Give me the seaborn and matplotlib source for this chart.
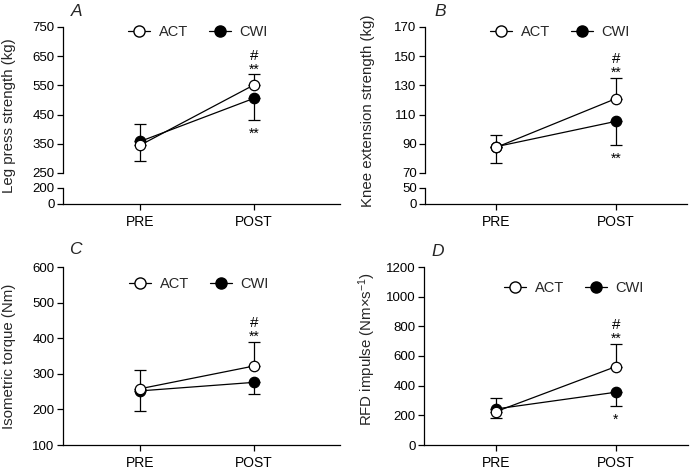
import matplotlib
matplotlib.use("Agg")
import matplotlib.pyplot as plt
import pandas as pd
import seaborn as sns
from matplotlib.lines import Line2D

# ---- data ----
times = ["PRE", "POST"]
groups = ["ACT", "CWI"]

# A: leg press strength (kg)
leg_act = [345, 552]
leg_act_sd = [74, 36]
leg_cwi = [358, 506]
leg_cwi_sd = [67, 73]
leg_marks = [("#", 657), ("**", 617), ("**", 400)]

# B: knee extension strength (kg)
knee_act = [87.5, 121]
knee_act_sd = [8.7, 14.3]
knee_cwi = [88, 105.4]
knee_cwi_sd = [11.3, 16.1]
knee_marks = [("#", 149), ("**", 141.5), ("**", 82.4)]

# C: isometric torque (Nm)
iso_act = [258, 322]
iso_act_sd = [52, 68]
iso_cwi = [252, 276]
iso_cwi_sd = [56, 32]
iso_marks = [("#", 448), ("**", 416)]

# D: RFD impulse (Nm x s-1)
rfd_act = [225, 529]
rfd_act_sd = [90, 153]
rfd_cwi = [243, 356]
rfd_cwi_sd = [63, 90]
rfd_marks = [("#", 822), ("**", 743), ("*", 196)]

W, H = 694, 470
FS = 9.5
LABEL_FS = 10.8
LEG_FS = 10.5
LW = 0.9

sns.set_style("ticks")
plt.rcParams["font.family"] = ["Liberation Sans", "DejaVu Sans"]
plt.rcParams["mathtext.default"] = "regular"
plt.rcParams.update({
    "axes.linewidth": LW,
    "xtick.major.width": LW,
    "ytick.major.width": LW,
    "xtick.major.size": 4,
    "ytick.major.size": 4,
    "xtick.major.pad": 4,
    "ytick.major.pad": 2,
    "xtick.labelsize": 10,
    "ytick.labelsize": FS,
    "xtick.color": "black",
    "ytick.color": "black",
    "axes.edgecolor": "black",
})

fig = plt.figure(figsize=(W / 100, H / 100), dpi=100)


def px_axes(left, right, top, bottom):
    return fig.add_axes([left / W, 1 - bottom / H, (right - left) / W, (bottom - top) / H])


def draw_series(ax, act, act_sd, cwi, cwi_sd):
    x = [0, 1]
    ax.errorbar(x, cwi, yerr=[cwi_sd, [0, 0]], fmt="none", ecolor="black",
                elinewidth=LW, capsize=4, capthick=LW, zorder=1)
    ax.errorbar(x, act, yerr=[[0, 0], act_sd], fmt="none", ecolor="black",
                elinewidth=LW, capsize=4, capthick=LW, zorder=1)
    for vals, face, z in [(cwi, "black", 2), (act, "white", 3)]:
        df = pd.DataFrame({"time": x, "value": vals})
        sns.lineplot(data=df, x="time", y="value", ax=ax, color="black", lw=LW,
                     marker="o", markersize=7.5, markerfacecolor=face,
                     markeredgecolor="black", markeredgewidth=LW, zorder=z)


def finish(ax, xlim):
    ax.set_xlim(*xlim)
    ax.set_xticks([0, 1])
    ax.set_xticklabels(times)
    ax.set_xlabel("")
    ax.set_ylabel("")
    sns.despine(ax=ax)


def add_marks(ax, marks):
    # y is the visual centre of the symbol; shift the baseline down accordingly
    for txt, y in marks:
        fs = 11 if txt == "#" else 10
        off = 0.36 * fs if txt == "#" else 0.6 * fs
        ax.annotate(txt, (1, y), xytext=(0, -off), textcoords="offset points",
                    ha="center", va="baseline", fontsize=fs, color="black")


def add_legend(cx, cy):
    handles = [
        Line2D([], [], color="black", lw=LW, marker="o", ms=8, mfc="white", mec="black"),
        Line2D([], [], color="black", lw=LW, marker="o", ms=8, mfc="black", mec="black"),
    ]
    fig.legend(handles, groups, loc="center", bbox_to_anchor=(cx / W, 1 - cy / H),
               ncol=2, frameon=False, fontsize=LEG_FS, handlelength=1.5,
               handletextpad=0.6, columnspacing=1.4)


def ylabel(cx, cy, text):
    fig.text(cx / W, 1 - cy / H, text, rotation=90, ha="center", va="center", fontsize=LABEL_FS)


def letter(cx, cy, text):
    fig.text(cx / W, 1 - cy / H, text, ha="center", va="center", fontsize=12.5, style="italic")


def broken_panel(left, right, xlim, act, act_sd, cwi, cwi_sd, top_lim, top_ticks, low_ticks, marks):
    top = px_axes(left, right, 27, 173)
    low = px_axes(left, right, 188, 204)
    draw_series(top, act, act_sd, cwi, cwi_sd)
    top.set_ylim(*top_lim)
    top.set_yticks(top_ticks)
    finish(top, xlim)
    top.spines["bottom"].set_visible(False)
    top.tick_params(axis="x", bottom=False, labelbottom=False)
    low.set_ylim(low_ticks[0], low_ticks[-1])
    low.set_yticks(low_ticks)
    finish(low, xlim)
    top.patch.set_alpha(0)
    low.patch.set_alpha(0)
    add_marks(top, marks)


# A
broken_panel(63, 340, (-0.675, 1.752), leg_act, leg_act_sd, leg_cwi, leg_cwi_sd,
             (250, 750), range(250, 751, 100), [0, 200], leg_marks)
add_legend(198, 32)
ylabel(9, 116, "Leg press strength (kg)")
letter(77, 12, "A")

# B
broken_panel(425, 687, (-0.592, 1.591), knee_act, knee_act_sd, knee_cwi, knee_cwi_sd,
             (70, 170), range(70, 171, 20), [0, 50], knee_marks)
add_legend(560, 32)
ylabel(368, 111, "Knee extension strength (kg)")
letter(440, 12, "B")

# C
ax_c = px_axes(63, 340, 267, 445)
draw_series(ax_c, iso_act, iso_act_sd, iso_cwi, iso_cwi_sd)
ax_c.set_ylim(100, 600)
ax_c.set_yticks(range(100, 601, 100))
finish(ax_c, (-0.675, 1.752))
add_marks(ax_c, iso_marks)
add_legend(199, 284)
ylabel(9, 356, "Isometric torque (Nm)")
letter(75, 250, "C")

# D
ax_d = px_axes(424, 688, 267, 445)
draw_series(ax_d, rfd_act, rfd_act_sd, rfd_cwi, rfd_cwi_sd)
ax_d.set_ylim(0, 1200)
ax_d.set_yticks(range(0, 1201, 200))
finish(ax_d, (-0.6, 1.6))
add_marks(ax_d, rfd_marks)
add_legend(574, 288)
ylabel(367, 349, "RFD impulse (Nm×s$^{-1}$)")
letter(438, 251, "D")

fig.savefig("out.png", dpi=100)
